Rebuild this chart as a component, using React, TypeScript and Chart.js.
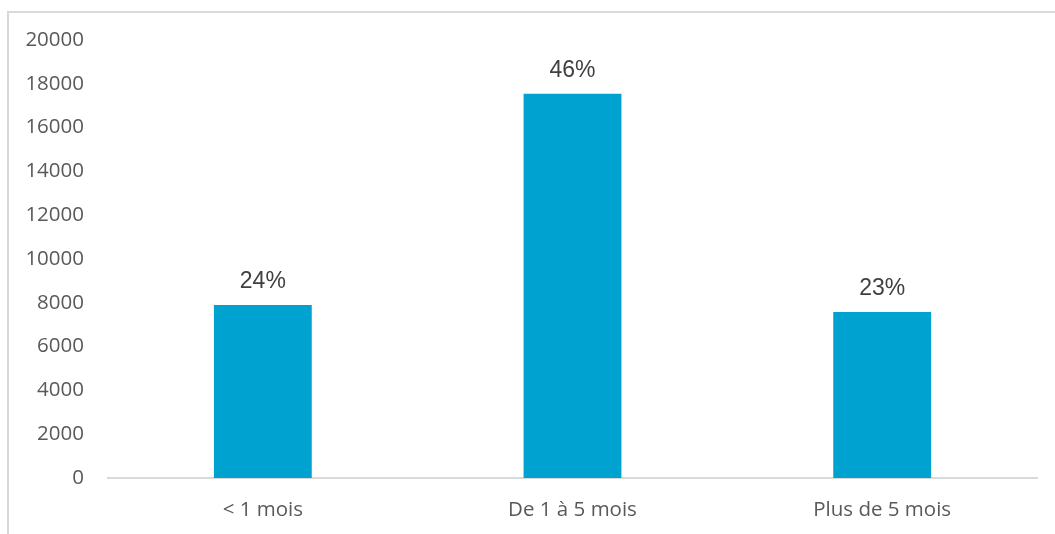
import React, { useEffect, useRef } from "react";
import { Chart, registerables } from "chart.js";

Chart.register(...registerables);

const categories = ["< 1 mois", "De 1 à 5 mois", "Plus de 5 mois"];
const values = [7900, 17550, 7580];
const percentLabels = ["24%", "46%", "23%"];
const yTicksMax = 20000;
const yTickStep = 2000;

const BAR_COLOR = "#00A3CF";
const TICK_COLOR = "#595959";
const LABEL_COLOR = "#404040";
const LINE_COLOR = "#D9D9D9";

const frame = {
  id: "frame",
  beforeDraw(chart: any) {
    const ctx = chart.ctx;
    ctx.save();
    ctx.fillStyle = "#ffffff";
    ctx.fillRect(0, 0, chart.width, chart.height);
    ctx.strokeStyle = LINE_COLOR;
    ctx.lineWidth = 2;
    ctx.strokeRect(8, 12, chart.width + 20, chart.height + 20);
    ctx.restore();
  },
};

const dataLabels = {
  id: "dataLabels",
  afterDatasetsDraw(chart: any) {
    const ctx = chart.ctx;
    const meta = chart.getDatasetMeta(0);
    ctx.save();
    ctx.font = "23px 'Liberation Sans', Arial, sans-serif";
    ctx.fillStyle = LABEL_COLOR;
    ctx.textAlign = "center";
    ctx.textBaseline = "alphabetic";
    meta.data.forEach((el: any, i: number) => {
      ctx.fillText(percentLabels[i], el.x, el.y - 17);
    });
    ctx.restore();
  },
};

export default function App() {
  const ref = useRef<HTMLCanvasElement>(null);
  useEffect(() => {
    if (!ref.current) return;
    const chart = new Chart(ref.current, {
      type: "bar",
      data: {
        labels: categories,
        datasets: [
          {
            data: values,
            backgroundColor: BAR_COLOR,
            borderWidth: 0,
            categoryPercentage: 1,
            barPercentage: 0.316,
          },
        ],
      },
      options: {
        animation: false,
        responsive: false,
        devicePixelRatio: 1,
        layout: { padding: { left: 0, right: 18, top: 40, bottom: 11 } },
        plugins: { legend: { display: false }, tooltip: { enabled: false } },
        scales: {
          x: {
            grid: { display: false, drawTicks: false },
            border: { display: true, color: LINE_COLOR, width: 2 },
            ticks: {
              color: TICK_COLOR,
              font: { family: "'Open Sans', sans-serif", size: 20.5 },
              padding: 20,
            },
            afterFit(scale: any) {
              scale.height = 45;
            },
          },
          y: {
            min: 0,
            max: yTicksMax,
            grid: { display: false, drawTicks: false },
            border: { display: false },
            ticks: {
              stepSize: yTickStep,
              color: TICK_COLOR,
              font: { family: "'Open Sans', sans-serif", size: 20.5 },
              padding: 24,
              callback: (v: any) => String(v),
            },
            afterFit(scale: any) {
              scale.width = 108;
            },
          },
        },
      },
      plugins: [frame, dataLabels],
    });
    return () => chart.destroy();
  }, []);
  return (
    <div style={{ position: "fixed", left: 0, top: 0, width: 1055, height: 534 }}>
      <canvas ref={ref} width={1055} height={534} />
    </div>
  );
}
